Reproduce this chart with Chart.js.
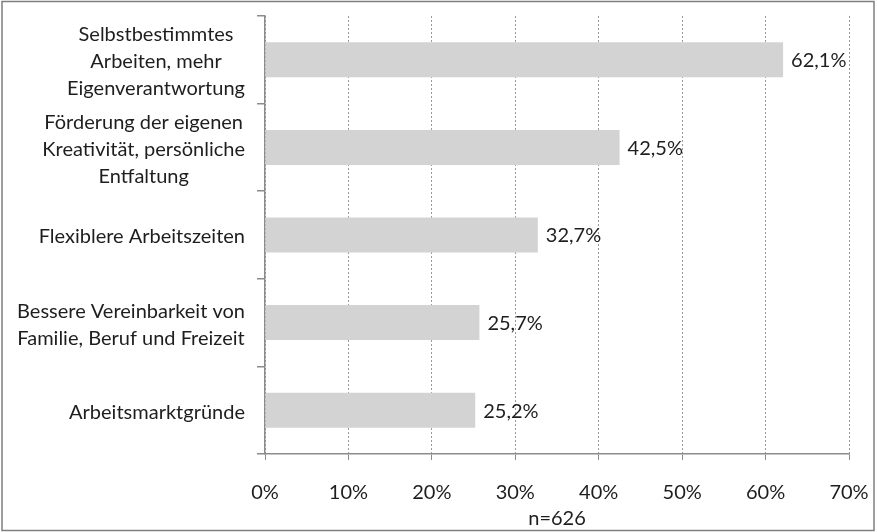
<!DOCTYPE html>
<html>
<head>
<meta charset="utf-8">
<script src="https://cdn.jsdelivr.net/npm/chart.js@4/dist/chart.umd.min.js"></script>
<style>
  body { margin: 0; background: #fff; }
  #wrap { width: 877px; height: 532px; position: relative; }
</style>
</head>
<body>
<div id="wrap"><canvas id="chart" width="877" height="532"></canvas></div>
<script>
const categories = [
  ["Selbstbestimmtes", "Arbeiten, mehr", "Eigenverantwortung"],
  ["Förderung der eigenen", "Kreativität, persönliche", "Entfaltung"],
  ["Flexiblere Arbeitszeiten"],
  ["Bessere Vereinbarkeit von", "Familie, Beruf und Freizeit"],
  ["Arbeitsmarktgründe"]
];
const values = [62.1, 42.5, 32.7, 25.7, 25.2];
const xTicks = [0, 10, 20, 30, 40, 50, 60, 70];
const sampleNote = "n=626";

const FONT = "Lato, 'Open Sans', sans-serif";
const FONT_SIZE = 20;
const TEXT = "#1e1e1e";

// frame + white background
const frame = {
  id: "frame",
  beforeDraw(chart) {
    const c = chart.ctx;
    c.save();
    c.fillStyle = "#fff";
    c.fillRect(0, 0, chart.width, chart.height);
    c.strokeStyle = "#7f7f7f";
    c.lineWidth = 1.5;
    c.strokeRect(2, 1.5, 872, 529);
    c.restore();
  }
};

// y labels: each block right-aligned, lines centred inside the block (Excel style)
const yLabels = {
  id: "yLabels",
  afterDraw(chart) {
    const c = chart.ctx;
    const y = chart.scales.y;
    const right = y.right - 20;
    const lh = 27;
    c.save();
    c.font = FONT_SIZE + "px " + FONT;
    c.fillStyle = TEXT;
    c.textAlign = "center";
    c.textBaseline = "middle";
    categories.forEach((lines, i) => {
      const w = Math.max(...lines.map(l => c.measureText(l).width));
      const cx = right - w / 2;
      const cy = y.getPixelForValue(i) + 2;
      lines.forEach((l, j) => {
        c.fillText(l, cx, cy + (j - (lines.length - 1) / 2) * lh);
      });
    });
    c.restore();
  }
};

// value labels at bar ends
const valueLabels = {
  id: "valueLabels",
  afterDatasetsDraw(chart) {
    const c = chart.ctx;
    const meta = chart.getDatasetMeta(0);
    c.save();
    c.font = FONT_SIZE + "px " + FONT;
    c.fillStyle = TEXT;
    c.textAlign = "left";
    c.textBaseline = "middle";
    meta.data.forEach((bar, i) => {
      c.fillText(values[i].toFixed(1).replace(".", ",") + "%", bar.x + 8, bar.y + 1);
    });
    c.restore();
  }
};

new Chart(document.getElementById("chart"), {
  type: "bar",
  data: {
    labels: categories.map(l => l.join(" ")),
    datasets: [{
      data: values,
      backgroundColor: "#d3d3d3",
      borderWidth: 0,
      barPercentage: 0.4,
      categoryPercentage: 1
    }]
  },
  options: {
    indexAxis: "y",
    responsive: false,
    animation: false,
    layout: { padding: { top: 16, right: 28, left: 0, bottom: 0 } },
    plugins: { legend: { display: false }, tooltip: { enabled: false } },
    scales: {
      x: {
        min: 0,
        max: 70,
        afterBuildTicks: s => { s.ticks = xTicks.map(v => ({ value: v })); },
        afterFit: s => {
          s.height = 78;
          s.paddingLeft = 0;
          s.paddingRight = 0;
        },
        grid: {
          color: "#9a9a9a",
          lineWidth: 1,
          tickLength: 6,
          tickColor: "#8c8c8c"
        },
        border: { display: true, color: "#8c8c8c", width: 1.5, dash: [2, 2] },
        ticks: {
          font: { family: FONT, size: FONT_SIZE },
          color: TEXT,
          padding: 21,
          callback: v => v + "%"
        },
        title: {
          display: true,
          text: sampleNote,
          font: { family: FONT, size: FONT_SIZE },
          color: TEXT,
          padding: { top: 0, bottom: 1 }
        }
      },
      y: {
        afterFit: s => { s.width = 265; },
        grid: {
          offset: true,
          drawOnChartArea: false,
          tickLength: 8,
          tickColor: "#8c8c8c",
          lineWidth: 1.5
        },
        border: { display: true, color: "#8c8c8c", width: 1.5 },
        ticks: { display: false }
      }
    }
  },
  plugins: [frame, yLabels, valueLabels]
});
</script>
</body>
</html>
